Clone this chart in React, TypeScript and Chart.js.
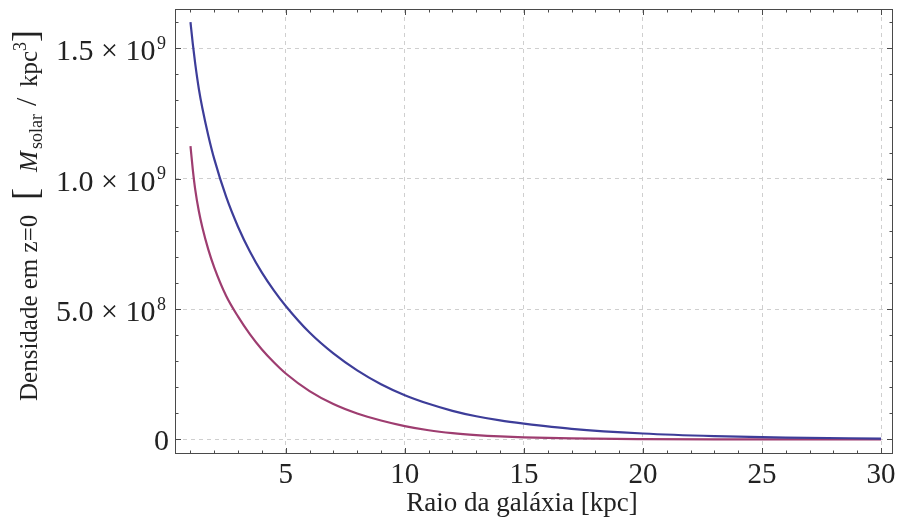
import React, { useEffect, useRef } from 'react';
import { Chart, registerables } from 'chart.js';

Chart.register(...registerables);

// ---- data ----
const RADIUS_KPC = [1, 1.1, 1.2, 1.35, 1.5, 1.75, 2, 2.5, 3, 3.5, 4, 4.5, 5, 6, 7, 8, 9, 10, 11, 12, 13, 14, 15, 17, 20, 23, 26, 30];
const DENSITY_BLUE = [1.6e9, 1.515e9, 1.44e9, 1.345e9, 1.27e9, 1.165e9, 1.075e9, 9.3e8, 8.15e8, 7.2e8, 6.4e8, 5.72e8, 5.12e8, 4.1e8, 3.3e8, 2.65e8, 2.12e8, 1.7e8, 1.37e8, 1.1e8, 8.9e7, 7.3e7, 6.1e7, 4.1e7, 2.3e7, 1.3e7, 7.5e6, 3.5e6];
const DENSITY_RED = [1.125e9, 1.033e9, 9.58e8, 8.76e8, 8.13e8, 7.28e8, 6.59e8, 5.5e8, 4.71e8, 4.03e8, 3.45e8, 2.96e8, 2.53e8, 1.856e8, 1.36e8, 9.98e7, 7.3e7, 5.15e7, 3.55e7, 2.45e7, 1.7e7, 1.18e7, 8.3e6, 4.0e6, 1.4e6, 5e5, 1.8e5, 5e4];

const X_TICKS = [5, 10, 15, 20, 25, 30];
const X_TICK_LABELS = ['5', '10', '15', '20', '25', '30'];
const Y_TICKS = [0, 5e8, 1e9, 1.5e9];
const Y_TICK_MANTISSA = ['0', '5.0 \u00d7 10', '1.0 \u00d7 10', '1.5 \u00d7 10'];
const Y_TICK_EXPONENT = ['', '8', '9', '9'];

const X_TITLE = 'Raio da gal\u00e1xia [kpc]';
// y title pieces; `at` = distance along the text line from the title's start
const Y_TITLE_PARTS = [
  { text: 'Densidade em z=0', size: 25, style: '', dy: 0, at: 0 },
  { text: '[', size: 36, style: '', dy: 0, at: 201 },
  { text: 'M', size: 25, style: 'italic ', dy: 0, at: 229 },
  { text: 'solar', size: 18, style: '', dy: 5, at: 252 },
  { text: '/', size: 30, style: '', dy: -1, at: 295 },
  { text: 'kpc', size: 25, style: '', dy: 0, at: 314 },
  { text: '3', size: 18, style: '', dy: -11, at: 350 },
  { text: ']', size: 36, style: '', dy: 0, at: 359 },
];

const X_MIN = 0.35;
const X_MAX = 30.5;
const Y_MIN = -5.56e7;
const Y_MAX = 1.6507e9;

const FONT = '"Liberation Serif", "DejaVu Serif", serif';
const FRAME_COLOR = '#4a4a4a';
const TEXT_COLOR = '#222222';
const GRID_COLOR = '#cfcfcf';
const BLUE = '#3d3d99';
const RED = '#9e3d70';

const framePlugin = {
  id: 'mmaFrame',
  afterDraw(chart: any) {
    const { ctx, chartArea: a, scales } = chart;
    const xs = scales.x;
    const ys = scales.y;
    ctx.save();
    ctx.strokeStyle = FRAME_COLOR;
    ctx.lineWidth = 1;
    ctx.setLineDash([]);
    ctx.strokeRect(a.left + 0.5, a.top + 0.5, a.right - a.left - 1, a.bottom - a.top - 1);

    // ticks, inward on all four sides
    ctx.beginPath();
    for (let k = Math.ceil(X_MIN); k <= Math.floor(X_MAX); k++) {
      const px = Math.round(xs.getPixelForValue(k)) + 0.5;
      const len = k % 5 === 0 ? 6 : 3.5;
      ctx.moveTo(px, a.bottom);
      ctx.lineTo(px, a.bottom - len);
      ctx.moveTo(px, a.top);
      ctx.lineTo(px, a.top + len);
    }
    for (let k = 0; k * 1e8 <= Y_MAX; k++) {
      const py = Math.round(ys.getPixelForValue(k * 1e8)) + 0.5;
      const len = k % 5 === 0 ? 6 : 3.5;
      ctx.moveTo(a.left, py);
      ctx.lineTo(a.left + len, py);
      ctx.moveTo(a.right, py);
      ctx.lineTo(a.right - len, py);
    }
    ctx.stroke();

    // x tick labels
    ctx.fillStyle = TEXT_COLOR;
    ctx.font = `29px ${FONT}`;
    ctx.textAlign = 'center';
    ctx.textBaseline = 'alphabetic';
    X_TICKS.forEach((v, i) => {
      ctx.fillText(X_TICK_LABELS[i], xs.getPixelForValue(v), a.bottom + 29);
    });

    // y tick labels with superscript exponents
    const right = 166;
    Y_TICKS.forEach((v, i) => {
      const py = ys.getPixelForValue(v);
      const exp = Y_TICK_EXPONENT[i];
      ctx.textAlign = 'right';
      if (exp) {
        ctx.font = `18px ${FONT}`;
        const ew = ctx.measureText(exp).width;
        ctx.fillText(exp, right, py + 0.5);
        ctx.font = `30px ${FONT}`;
        ctx.fillText(Y_TICK_MANTISSA[i], right - ew - 1.5, py + 12);
      } else {
        ctx.font = `30px ${FONT}`;
        ctx.fillText(Y_TICK_MANTISSA[i], right + 3, py + 11);
      }
    });

    // x title
    ctx.textAlign = 'center';
    ctx.font = `27px ${FONT}`;
    ctx.fillText(X_TITLE, 522, 511);

    // y title (rotated)
    ctx.save();
    ctx.translate(37, 401);
    ctx.rotate(-Math.PI / 2);
    ctx.textAlign = 'left';
    Y_TITLE_PARTS.forEach((p) => {
      ctx.font = `${p.style}${p.size}px ${FONT}`;
      ctx.fillText(p.text, p.at, p.dy);
    });
    ctx.restore();
    ctx.restore();
  },
};

export default function App() {
  const ref = useRef<HTMLCanvasElement>(null);
  useEffect(() => {
    if (!ref.current) return;
    const chart = new Chart(ref.current, {
      type: 'line',
      data: {
        datasets: [
          {
            label: 'blue',
            data: RADIUS_KPC.map((r, i) => ({ x: r, y: DENSITY_BLUE[i] })),
            borderColor: BLUE,
            borderWidth: 2.2,
            pointRadius: 0,
            cubicInterpolationMode: 'monotone',
            fill: false,
          },
          {
            label: 'red',
            data: RADIUS_KPC.map((r, i) => ({ x: r, y: DENSITY_RED[i] })),
            borderColor: RED,
            borderWidth: 2.2,
            pointRadius: 0,
            cubicInterpolationMode: 'monotone',
            fill: false,
          },
        ],
      },
      plugins: [framePlugin],
      options: {
        animation: false,
        responsive: false,
        devicePixelRatio: 1,
        layout: { padding: { left: 0, right: 6, top: 9, bottom: 0 } },
        plugins: { legend: { display: false }, tooltip: { enabled: false }, title: { display: false } },
        scales: {
          x: {
            type: 'linear',
            min: X_MIN,
            max: X_MAX,
            afterBuildTicks: (s: any) => { s.ticks = X_TICKS.map((v) => ({ value: v })); },
            afterFit: (s: any) => { s.height = 66; },
            ticks: { display: false },
            grid: { color: GRID_COLOR, lineWidth: 1, drawTicks: false },
            border: { display: false, dash: [4, 4] },
          },
          y: {
            type: 'linear',
            min: Y_MIN,
            max: Y_MAX,
            afterBuildTicks: (s: any) => { s.ticks = Y_TICKS.map((v) => ({ value: v })); },
            afterFit: (s: any) => { s.width = 175; },
            ticks: { display: false },
            grid: { color: GRID_COLOR, lineWidth: 1, drawTicks: false },
            border: { display: false, dash: [4, 4] },
          },
        },
      },
    });
    return () => chart.destroy();
  }, []);
  return (
    <div style={{ position: 'fixed', left: 0, top: 0, width: 899, height: 520, background: '#fff' }}>
      <canvas ref={ref} width={899} height={520} />
    </div>
  );
}
